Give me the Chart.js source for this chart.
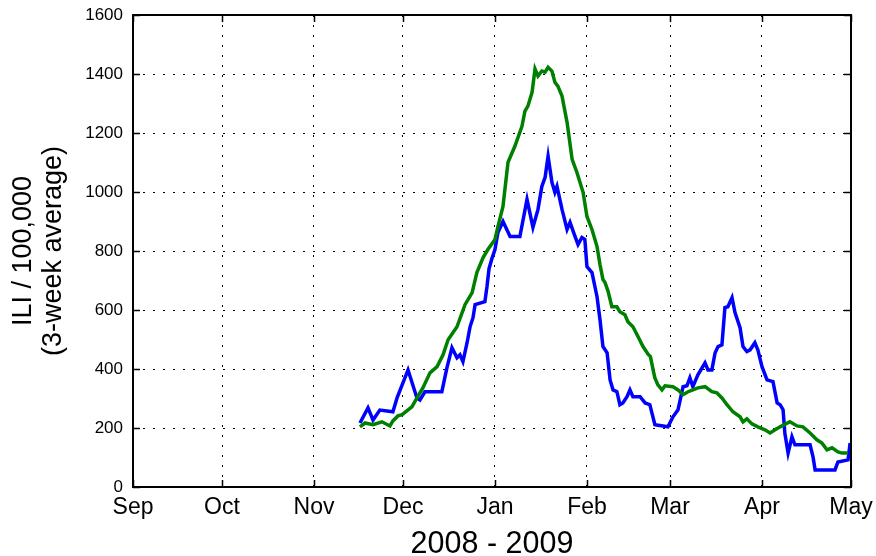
<!DOCTYPE html>
<html>
<head>
<meta charset="utf-8">
<title>ILI 2008 - 2009</title>
<script src="https://cdn.jsdelivr.net/npm/chart.js@4"></script>
<style>
    html, body { margin: 0; padding: 0; background: #fff; }
    #wrap { width: 876px; height: 556px; }
</style>
</head>
<body>
<div id="wrap"><canvas id="iliChart" width="876" height="556"></canvas></div>
<script>
// x = days since 1 Sep 2008
const monthDays = [0, 30, 61, 91, 122, 153, 181, 212, 242];
const monthLabels = ['Sep', 'Oct', 'Nov', 'Dec', 'Jan', 'Feb', 'Mar', 'Apr', 'May'];
const yTicks = [0, 200, 400, 600, 800, 1000, 1200, 1400, 1600];

const blueDays = [76.5, 79.2, 80.9, 83.2, 87.6, 89.0, 92.7, 95.7, 96.7, 98.4, 104.1, 105.8, 107.5, 109.2, 110.2, 111.2,
    112.6, 113.6, 114.6, 115.3, 118.6, 119.3, 120.0, 121.0, 122.0, 123.0, 124.7, 127.1, 130.4, 132.8, 134.8, 136.5,
    137.8, 138.9, 139.9, 141.2, 142.2, 142.9, 144.6, 146.3, 147.3, 149.0, 150.0, 151.3, 152.3, 153.0, 154.7, 156.4,
    157.4, 158.4, 159.8, 160.8, 161.8, 163.1, 164.1, 165.1, 166.5, 167.5, 168.5, 170.9, 172.6, 174.2, 175.9, 180.3,
    182.0, 183.7, 185.4, 186.7, 187.7, 188.7, 190.4, 192.8, 193.8, 195.1, 196.2, 197.2, 198.5, 199.5, 200.5, 201.9,
    202.9, 204.6, 205.6, 206.9, 208.0, 209.6, 210.6, 212.0, 213.7, 215.7, 217.1, 218.1, 219.1, 219.7, 220.8, 222.1,
    223.1, 228.2, 229.2, 229.9, 236.6, 237.6, 241.0, 241.7];
const blueIli = [217, 268, 227, 261, 255, 302, 397, 302, 295, 323, 323, 404, 472, 438, 448, 425,
    489, 543, 574, 618, 628, 679, 740, 775, 805, 863, 900, 849, 849, 975, 880, 941,
    1019, 1050, 1121, 1033, 999, 1019, 941, 873, 897, 849, 822, 846, 839, 747, 727, 645,
    567, 476, 455, 363, 329, 323, 279, 285, 306, 329, 306, 306, 285, 279, 211, 204,
    238, 262, 340, 343, 370, 340, 380, 421, 397, 397, 455, 476, 482, 608, 611, 642,
    591, 540, 476, 459, 465, 489, 465, 408, 363, 357, 285, 279, 262, 183, 115, 170,
    143, 143, 102, 58, 58, 85, 92, 149];

const greenDays = [76.5, 78.2, 80.9, 83.9, 86.6, 87.6, 89.3, 90.7, 94.0, 95.7, 97.7, 100.1, 102.5, 104.5, 106.2, 109.2,
    111.9, 114.3, 115.9, 118.0, 119.6, 121.3, 122.0, 123.0, 124.7, 126.4, 128.7, 131.1, 132.1, 133.1, 134.5, 135.5,
    136.5, 137.8, 138.9, 139.9, 141.2, 142.2, 143.2, 144.6, 146.3, 148.0, 149.6, 151.7, 153.0, 154.7, 156.4, 157.4,
    158.4, 159.1, 160.1, 161.4, 163.1, 164.1, 165.8, 166.8, 168.5, 170.2, 171.9, 173.6, 174.4, 175.3, 175.9, 176.9,
    178.3, 179.3, 182.0, 183.7, 185.4, 187.1, 188.7, 190.4, 192.8, 195.1, 196.8, 198.5, 200.2, 202.2, 204.6, 205.6,
    206.9, 208.6, 210.6, 213.0, 214.7, 216.4, 218.1, 221.4, 223.8, 225.8, 228.2, 230.5, 232.2, 233.9, 235.6, 237.6,
    239.0, 241.0];
const greenIli = [204, 217, 211, 221, 207, 224, 241, 245, 272, 302, 336, 387, 408, 448, 499, 543,
    618, 659, 727, 778, 805, 829, 839, 883, 951, 1101, 1155, 1223, 1274, 1291, 1338, 1417,
    1393, 1410, 1406, 1423, 1410, 1372, 1359, 1325, 1236, 1111, 1067, 999, 917, 873, 815, 754,
    703, 693, 664, 611, 611, 594, 584, 560, 543, 510, 476, 450, 442, 397, 370, 346,
    329, 343, 340, 329, 313, 323, 329, 336, 340, 323, 319, 302, 279, 255, 238, 221,
    231, 214, 204, 194, 183, 194, 204, 221, 207, 204, 183, 160, 149, 126, 133, 119,
    115, 115];

const FONT = '"Liberation Sans", Arial, Helvetica, sans-serif';

/**
 * Frame round the plot area plus inward tick marks on all four sides.
 */
const frameTicks = {
    id: 'frameTicks',
    afterDatasetsDraw(chart) {
        const { ctx, chartArea: a, scales: { x, y } } = chart;
        const len = 7;
        ctx.save();
        ctx.strokeStyle = '#000';
        ctx.lineWidth = 1.5;
        ctx.beginPath();
        monthDays.forEach(v => {
            const px = Math.round(x.getPixelForValue(v)) + 0.5;
            ctx.moveTo(px, a.bottom); ctx.lineTo(px, a.bottom - len);
            ctx.moveTo(px, a.top); ctx.lineTo(px, a.top + len);
        });
        yTicks.forEach(v => {
            const py = Math.round(y.getPixelForValue(v)) + 0.5;
            ctx.moveTo(a.left, py); ctx.lineTo(a.left + len, py);
            ctx.moveTo(a.right, py); ctx.lineTo(a.right - len, py);
        });
        ctx.stroke();
        ctx.lineWidth = 2;
        ctx.strokeRect(a.left, a.top, a.right - a.left, a.bottom - a.top);
        ctx.restore();
    }
};

const line = (label, days, vals, color, order) => ({
    label: label,
    data: days.map((d, i) => ({ x: d, y: vals[i] })),
    borderColor: color,
    backgroundColor: color,
    borderWidth: 3.5,
    pointRadius: 0,
    tension: 0,
    fill: false,
    order: order,
});

// outer tick marks stay invisible: they only push the labels away from the frame
const grid = { color: '#000', lineWidth: 1, drawTicks: true, tickColor: 'rgba(0,0,0,0)' };

new Chart(document.getElementById('iliChart'), {
    type: 'line',
    data: {
        datasets: [
            line('blue', blueDays, blueIli, '#0000ff', 1),
            line('green', greenDays, greenIli, '#008000', 0),
        ]
    },
    options: {
        responsive: false,
        animation: false,
        layout: { padding: { left: 0, right: 25, top: 15, bottom: 0 } },
        plugins: { legend: { display: false }, tooltip: { enabled: false } },
        scales: {
            x: {
                type: 'linear',
                min: 0,
                max: 242,
                afterBuildTicks: s => { s.ticks = monthDays.map(v => ({ value: v })); },
                afterFit: s => { s.height = 69; },
                ticks: {
                    autoSkip: false,
                    maxRotation: 0,
                    padding: 2,
                    color: '#000',
                    font: { family: FONT, size: 23, lineHeight: 1.1 },
                    callback: v => monthLabels[monthDays.indexOf(v)] || '',
                },
                grid: { ...grid, tickLength: 6 },
                border: { display: false, dash: [2, 8] },
                title: {
                    display: true,
                    text: '2008 - 2009',
                    color: '#000',
                    font: { family: FONT, size: 30.5, lineHeight: 0.75 },
                    padding: { top: 0, bottom: 0 },
                },
            },
            y: {
                min: 0,
                max: 1600,
                afterBuildTicks: s => { s.ticks = yTicks.map(v => ({ value: v })); },
                afterFit: s => { s.width = 133; },
                ticks: {
                    padding: 2,
                    color: '#000',
                    font: { family: FONT, size: 17 },
                    callback: v => String(v),
                },
                grid: { ...grid, tickLength: 8 },
                border: { display: false, dash: [2, 8] },
                title: {
                    display: true,
                    text: ['ILI / 100,000', '(3-week average)'],
                    color: '#000',
                    font: { family: FONT, size: 27, lineHeight: 1.1 },
                    padding: { top: 9, bottom: 0 },
                },
            },
        },
    },
    plugins: [frameTicks],
});
</script>
</body>
</html>
